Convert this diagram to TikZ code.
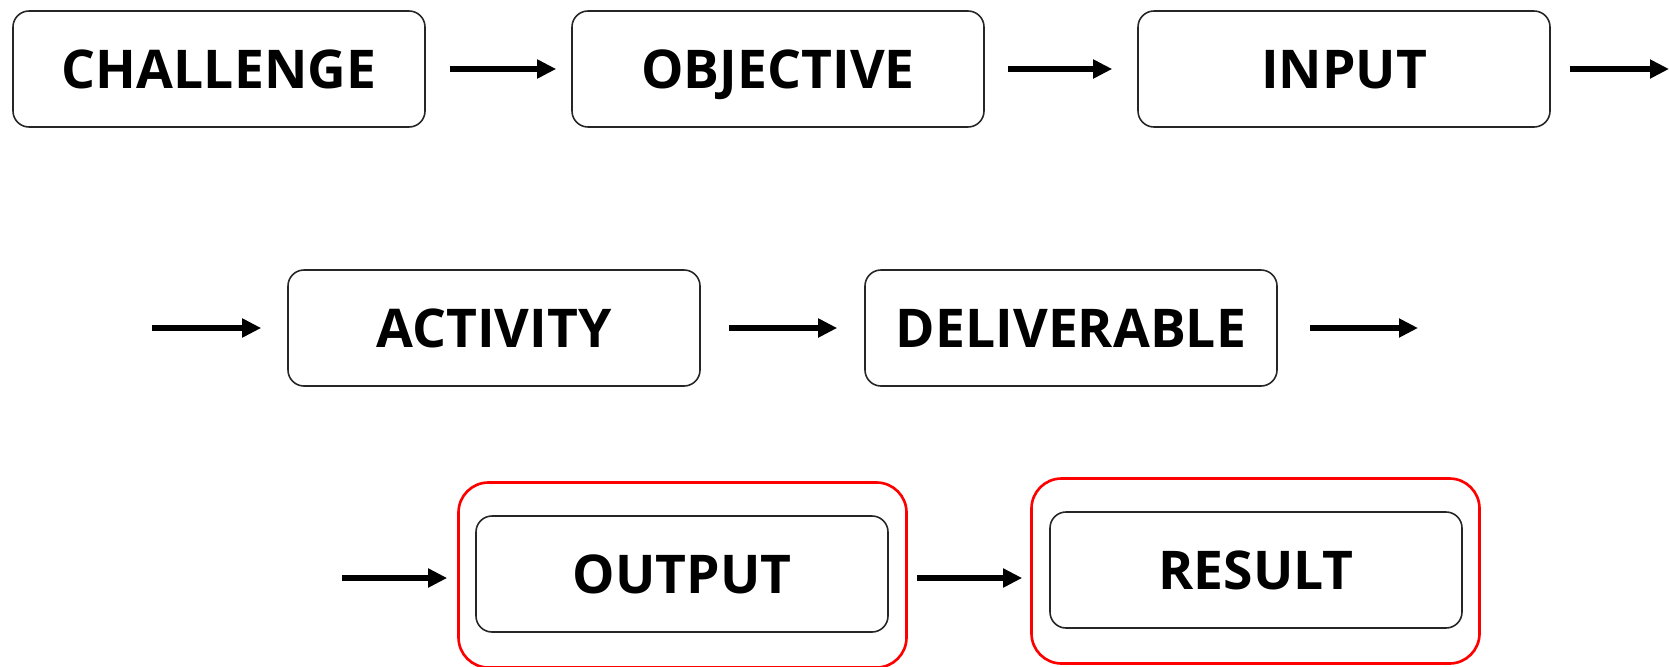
\documentclass[tikz,border=0pt]{standalone}
\usepackage{fontspec}
\setmainfont{Open Sans}
\usetikzlibrary{arrows.meta,positioning}

\begin{document}
\begin{tikzpicture}
	[every node/.style={font=\fontsize{15.2}{18}\selectfont\bfseries},
	stage/.style={shape=rectangle,rounded corners=0.16cm,draw=black!85,line 
		width=0.45pt,minimum width=4.12cm,minimum height=1.16cm,inner 
		sep=0pt,text height=10.9pt,text depth=0pt},
	redframe/.style={shape=rectangle,rounded corners=0.3cm,draw=red,line 
		width=0.75pt,minimum width=4.48cm,minimum height=1.85cm,inner sep=0pt},
	flow/.style={-{Triangle[length=0.19cm,width=0.18cm]},line width=1.5pt}]
	\useasboundingbox (0,0) rectangle (16.69,6.66);
	% row one
	\node[stage] (challenge) at (2.19,5.97) {CHALLENGE};
	\node[stage] (objective) at (7.78,5.97) {OBJECTIVE};
	\node[stage] (input) at (13.44,5.97) {INPUT};
	\coordinate (rowoneend) at (16.69,5.97);
	% row two
	\node[stage] (activity) at (4.94,3.38) {ACTIVITY};
	\node[stage] (deliverable) at (10.71,3.38) {DELIVERABLE};
	\coordinate (rowtwostart) at (1.52,3.38);
	\coordinate (rowtwoend) at (14.18,3.38);
	% row three
	\node[redframe] (outputframe) at (6.825,0.91) {};
	\node[redframe] (resultframe) at (12.555,0.95) {};
	\node[stage] (output) at (6.82,0.92) {OUTPUT};
	\node[stage] (result) at (12.56,0.96) {RESULT};
	\coordinate (rowthreestart) at (3.42,0.88);
	\path
	\foreach \startNode/\endNode/\gapA/\gapB in 
	{challenge/objective/0.24/0.15,objective/input/0.23/0.25,
	input/rowoneend/0.19/0,rowtwostart/activity/0/0.26,
	activity/deliverable/0.28/0.27,deliverable/rowtwoend/0.32/0}
	{
		(\startNode) edge[flow,shorten <=\gapA cm,shorten >=\gapB cm] (\endNode)
	};
	\draw[flow,shorten >=0.10cm] (rowthreestart) -- (outputframe.west |- rowthreestart);
	\draw[flow,shorten <=0.09cm,shorten >=0.08cm] (outputframe.east |- rowthreestart) 
	-- (resultframe.west |- rowthreestart);
\end{tikzpicture}
\end{document}
